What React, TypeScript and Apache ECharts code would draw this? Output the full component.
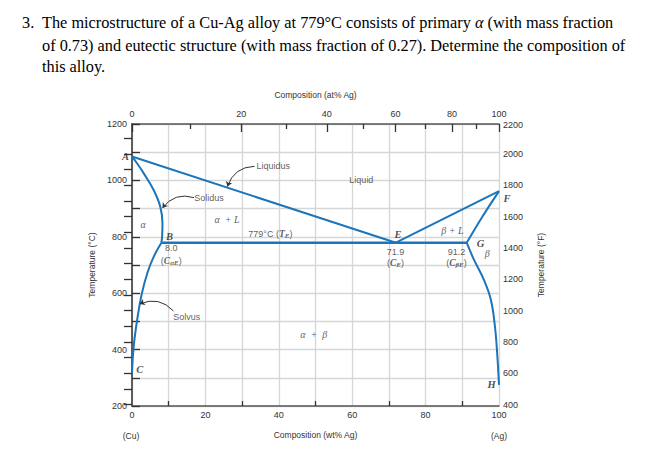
import React, { useEffect, useRef } from "react";
import * as echarts from "echarts";

// ---- data (wt% Ag, °C) ----
const liquidusAlpha = [[0, 1085], [71.9, 779]];
const liquidusBeta = [[71.9, 779], [100, 962]];
const solidusAlpha = [[0, 1085], [1.4, 1060], [3.2, 1025], [5.9, 966], [7.7, 907], [8.3, 848], [8.2, 800], [8.0, 779]];
const solvusAlpha = [[8.0, 779], [5.9, 729], [4.3, 676], [2.7, 600], [1.4, 505], [0.45, 410], [0, 316]];
const solidusBeta = [[91.2, 779], [95.5, 872], [100, 962]];
const solvusBeta = [[91.2, 779], [93.2, 718], [95.9, 647], [97.8, 576], [98.9, 481], [99.5, 387], [100, 275]];
const eutecticLine = [[8.0, 779], [91.2, 779]];

const wtLabels = [0, 20, 40, 60, 80, 100];
const wtTicks = [10, 30, 50, 70, 90];
const atLabels = [0, 20, 40, 60, 80, 100];
const atMinor = [10, 30, 50, 70, 90];
const cLabels = [200, 400, 600, 800, 1000, 1200];
const fTicks = [400, 500, 600, 700, 800, 900, 1000, 1100, 1200, 1300, 1400, 1500, 1600, 1700, 1800, 1900, 2000, 2100];
const fLabels = [400, 600, 800, 1000, 1200, 1400, 1600, 1800, 2000];
const fTopLabel = "2200";

// annotations: [text (rich), wt%, °C]
const annotations: [string, number, number][] = [
  ["{bi|B}", 10.2, 800],
  ["{s|8.0}", 10.7, 759],
  ["{s|(}{ci|C}{sub|αE}{s|)}", 10.7, 715],
  ["{it|α}", 3.0, 842],
  ["{it|α  + L}", 25.9, 862],
  ["{s|Liquid}", 62.5, 1001],
  ["{s|779°C (}{ci|T}{sub|E}{s|)}", 37.7, 811],
  ["{bi|E}", 72.5, 809],
  ["{s|71.9}", 71.8, 745],
  ["{s|(}{ci|C}{sub|E}{s|)}", 71.8, 708],
  ["{it|β + L}", 87.3, 824],
  ["{s|91.2}", 88.4, 745],
  ["{s|(}{ci|C}{sub|βE}{s|)}", 88.4, 708],
  ["{bi|G}", 95.0, 777],
  ["{it|β}", 96.8, 741],
  ["{bi|F}", 102.2, 937],
  ["{bi|H}", 98.0, 277],
  ["{bi|C}", 2.1, 331],
  ["{it|α  +  β}", 49.5, 455],
  ["{s|Liquidus}", 38.5, 1051],
  ["{s|Solidus}", 21.0, 939],
  ["{s|Solvus}", 14.9, 517],
];
const arrows: [number[], number[]][] = [
  [[33.4, 1050], [26.0, 978]],
  [[16.9, 939], [8.3, 902]],
  [[11.3, 537], [2.1, 562]],
];

const atToWt = (a: number) => (a * 107.87) / (a * 107.87 + (100 - a) * 63.55) * 100;
const wtToAt = (w: number) => (w / 107.87) / (w / 107.87 + (100 - w) / 63.55) * 100;

const BLUE = "#1b75bb";
const SANS = "Liberation Sans, Arial, sans-serif";
const SERIF = "Liberation Serif, Times New Roman, serif";
const TXT = "#333";

const rich = {
  s: { fontFamily: SANS, fontSize: 9, color: TXT },
  it: { fontFamily: SERIF, fontStyle: "italic", fontSize: 10, color: TXT },
  bi: { fontFamily: SERIF, fontStyle: "italic", fontWeight: "bold", fontSize: 10.5, color: "#222" },
  ci: { fontFamily: SERIF, fontStyle: "italic", fontWeight: "bold", fontSize: 9.5, color: TXT },
  sub: { fontFamily: SERIF, fontStyle: "italic", fontWeight: "bold", fontSize: 7, color: TXT, verticalAlign: "bottom", padding: [5, 0, 0, 0] },
};

// grid layout
const G = { left: 132, top: 124, width: 367, height: 282 };

export default function App() {
  const ref = useRef<HTMLDivElement>(null);
  useEffect(() => {
    if (!ref.current) return;
    const chart = echarts.init(ref.current, null, { renderer: "svg" });
    const curve = (data: number[][], width = 2, smooth: any = false) => ({
      type: "line",
      data,
      xAxisIndex: 0,
      yAxisIndex: 0,
      showSymbol: false,
      symbol: "none",
      smooth,
      clip: false,
      lineStyle: { color: BLUE, width },
      z: 5,
    });
    const qFont = { fontFamily: SERIF, fontSize: 16.3, fill: "#000" };
    chart.setOption({
      animation: false,
      backgroundColor: "#fff",
      grid: G,
      xAxis: [
        {
          type: "value", min: 0, max: 100, interval: 10, position: "bottom",
          axisLine: { lineStyle: { color: "#555", width: 1.5 } },
          axisTick: { inside: true, length: 5, customValues: wtTicks, lineStyle: { color: "#333", width: 1.3 } },
          axisLabel: { customValues: wtLabels, formatter: (v: number) => String(v), fontSize: 9, color: TXT, fontFamily: SANS, margin: 4 },
          splitLine: { show: false },
          name: "Composition (wt% Ag)", nameLocation: "middle", nameGap: 24,
          nameTextStyle: { fontSize: 8.5, color: TXT, fontFamily: SANS },
        },
        {
          type: "value", min: 0, max: 100, position: "top",
          axisLine: { show: true, lineStyle: { color: "#555", width: 1.5 } },
          axisTick: { inside: true, length: 8, customValues: atLabels.map(atToWt), lineStyle: { color: "#333", width: 1.3 } },
          axisLabel: { customValues: atLabels.map(atToWt), formatter: (v: number) => String(Math.round(wtToAt(v))), fontSize: 9, color: TXT, fontFamily: SANS, margin: 6 },
          splitLine: { show: false },
          name: "Composition (at% Ag)", nameLocation: "middle", nameGap: 25,
          nameTextStyle: { fontSize: 8.5, color: TXT, fontFamily: SANS },
        },
        {
          type: "value", min: 0, max: 100, position: "top",
          axisLine: { show: false },
          axisTick: { inside: true, length: 5, customValues: atMinor.map(atToWt), lineStyle: { color: "#333", width: 1.3 } },
          axisLabel: { show: false },
          splitLine: { show: false },
        },
        {
          type: "value", min: 0, max: 100, interval: 10, position: "bottom",
          axisLine: { show: false }, axisTick: { show: false }, axisLabel: { show: false },
          splitLine: { show: true, lineStyle: { color: "#d6d6d6", width: 1.3 } },
        },
      ],
      yAxis: [
        {
          type: "value", min: 200, max: 1200, interval: 100, position: "left",
          axisLine: { show: true, lineStyle: { color: "#555", width: 1.5 } },
          axisTick: { show: true, inside: true, length: 8, lineStyle: { color: "#333", width: 1.3 } },
          axisLabel: { customValues: cLabels, formatter: (v: number) => String(v), fontSize: 9, color: TXT, fontFamily: SANS, margin: 5 },
          splitLine: { show: true, lineStyle: { color: "#d6d6d6", width: 1.3 } },
          name: "Temperature (°C)", nameLocation: "middle", nameGap: 29,
          nameTextStyle: { fontSize: 8.5, color: TXT, fontFamily: SANS },
        },
        {
          type: "value", min: 392, max: 2192, position: "right",
          axisLine: { show: true, lineStyle: { color: "#555", width: 1.5 } },
          axisTick: { show: true, inside: true, length: 8, customValues: fTicks, lineStyle: { color: "#333", width: 1.3 } },
          axisLabel: { customValues: fLabels, formatter: (v: number) => String(v), fontSize: 9, color: TXT, fontFamily: SANS, margin: 4 },
          splitLine: { show: false },
          name: "Temperature (°F)", nameLocation: "middle", nameGap: 37,
          nameTextStyle: { fontSize: 8.5, color: TXT, fontFamily: SANS },
        },
      ],
      series: [
        curve(liquidusAlpha),
        curve(liquidusBeta),
        curve(solidusAlpha, 2, 0.4),
        curve(solvusAlpha, 2, 0.4),
        curve(solidusBeta, 2, 0.3),
        curve(solvusBeta, 2, 0.4),
        curve(eutecticLine, 2.6),
        {
          type: "scatter", xAxisIndex: 0, yAxisIndex: 0, symbolSize: 0, clip: false,
          data: [
            ...annotations.map(([t, x, y]) => ({ value: [x, y], label: { show: true, formatter: t, position: "inside", rich } })),
            { value: [0, 1085], label: { show: true, formatter: "{bi|A}", position: "left", distance: 3, rich } },
          ],
          z: 6,
        },
        {
          type: "lines", coordinateSystem: "cartesian2d", xAxisIndex: 0, yAxisIndex: 0,
          symbol: ["none", "arrow"], symbolSize: 5,
          lineStyle: { color: "#333", width: 1, curveness: -0.35, opacity: 1 },
          data: arrows.map((c) => ({ coords: c })),
          z: 6,
        },
      ],
      graphic: [
        { type: "text", left: 22, top: 14, style: { ...qFont, text: "3." } },
        { type: "text", left: 42, top: 14, style: { ...qFont, text: "The microstructure of a Cu-Ag alloy at 779°C consists of primary {a|α} (with mass fraction", rich: { a: { ...qFont, fontStyle: "italic" } } } },
        { type: "text", left: 42, top: 37, style: { ...qFont, text: "of 0.73) and eutectic structure (with mass fraction of 0.27). Determine the composition of" } },
        { type: "text", left: 42, top: 58, style: { ...qFont, text: "this alloy." } },
        { type: "text", x: G.left + G.width + 4, y: G.top + 1, style: { text: fTopLabel, fontFamily: SANS, fontSize: 9, fill: TXT, align: "left", verticalAlign: "middle" } },
        { type: "text", x: G.left - 1, y: 436, style: { text: "(Cu)", fontFamily: SANS, fontSize: 8.5, fill: TXT, align: "center", verticalAlign: "middle" } },
        { type: "text", x: G.left + G.width, y: 436, style: { text: "(Ag)", fontFamily: SANS, fontSize: 8.5, fill: TXT, align: "center", verticalAlign: "middle" } },
      ],
    });
    return () => chart.dispose();
  }, []);
  return (
    <div
      ref={ref}
      style={{ position: "absolute", left: 0, top: 0, width: 649, height: 458, background: "#fff" }}
    />
  );
}
